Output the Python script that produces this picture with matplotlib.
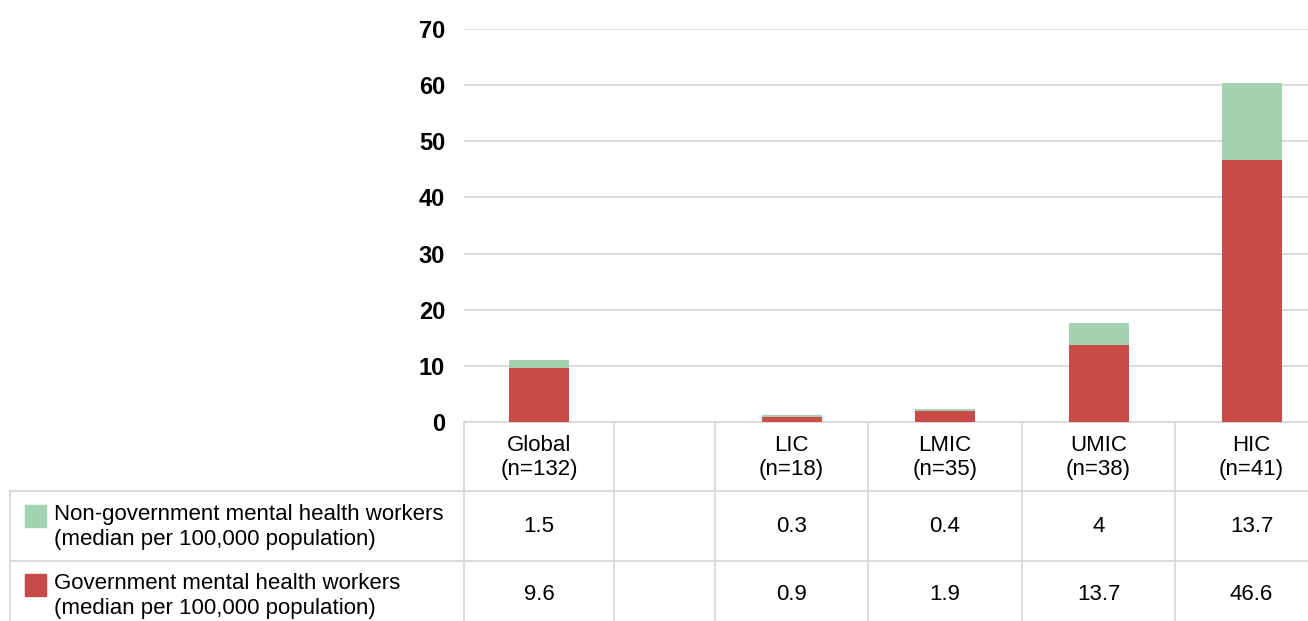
import numpy as np
import matplotlib.pyplot as plt
from matplotlib.patches import Rectangle

plt.rcParams['font.family'] = ['Liberation Sans', 'DejaVu Sans']

# Data
categories = ["Global\n(n=132)", "", "LIC\n(n=18)", "LMIC\n(n=35)", "UMIC\n(n=38)", "HIC\n(n=41)"]
non_gov = [1.5, np.nan, 0.3, 0.4, 4, 13.7]
gov = [9.6, np.nan, 0.9, 1.9, 13.7, 46.6]
series_names = ["Non-government mental health workers\n(median per 100,000 population)",
                "Government mental health workers\n(median per 100,000 population)"]

c_green = "#a3d3b1"
c_red = "#c84b48"
c_grid = "#d9d9d9"

W, H = 1308, 621
fig = plt.figure(figsize=(W / 100, H / 100), dpi=100)

# column layout (pixels)
x0 = 464
col_w = [150, 101, 153, 154, 153, 153]
edges = x0 + np.concatenate([[0], np.cumsum(col_w)])
centers = (edges[:-1] + edges[1:]) / 2
y_zero, y_top = 422, 29
row_lines = [491, 561]

ax = fig.add_axes([x0 / W, 1 - y_zero / H, (W - x0) / W, (y_zero - y_top) / H])
ax.set_xlim(x0, W)
ax.set_ylim(0, 70)

gov_arr = np.array(gov, dtype=float)
ng_arr = np.array(non_gov, dtype=float)
mask = ~np.isnan(gov_arr)
ax.bar(centers[mask], gov_arr[mask], width=60, color=c_red, zorder=3)
ax.bar(centers[mask], ng_arr[mask], bottom=gov_arr[mask], width=60, color=c_green, zorder=3)

ax.set_yticks(range(0, 71, 10))
ax.set_yticklabels([str(v) for v in range(0, 71, 10)], fontweight='bold', fontsize=17)
ax.tick_params(axis='y', length=0, pad=13.5)
ax.set_xticks([])
ax.yaxis.grid(True, color=c_grid, linewidth=1.3, zorder=0)
for s in ax.spines.values():
    s.set_visible(False)
ax.patch.set_alpha(0)

# data table overlay in pixel coordinates
tab = fig.add_axes([0, 0, 1, 1], zorder=-1)
tab.set_xlim(0, W)
tab.set_ylim(H, 0)
tab.axis('off')

lw = 1.3
for x in edges[:-1]:
    tab.plot([x, x], [y_zero, H], color=c_grid, lw=lw)
tab.plot([x0, W], [y_zero, y_zero], color=c_grid, lw=lw)
for y in row_lines:
    tab.plot([10, W], [y, y], color=c_grid, lw=lw)
tab.plot([10, 10], [row_lines[0], H], color=c_grid, lw=lw)

fs = 16
for cx, lab in zip(centers, categories):
    tab.text(cx, (y_zero + row_lines[0]) / 2 + 1, lab, ha='center', va='center',
             fontsize=fs, linespacing=1.2)

row_centers = [(row_lines[0] + row_lines[1]) / 2, (row_lines[1] + H + 8) / 2]
for rc, vals, name, col in zip(row_centers, [non_gov, gov], series_names, [c_green, c_red]):
    tab.add_patch(Rectangle((25, rc - 21), 21, 21.5, color=col))
    tab.text(54, rc + 1, name, ha='left', va='center', fontsize=fs, linespacing=1.2)
    for cx, v in zip(centers, vals):
        if not np.isnan(v):
            tab.text(cx, rc, f"{v:g}", ha='center', va='center', fontsize=fs)

fig.savefig("out.png", dpi=100)
